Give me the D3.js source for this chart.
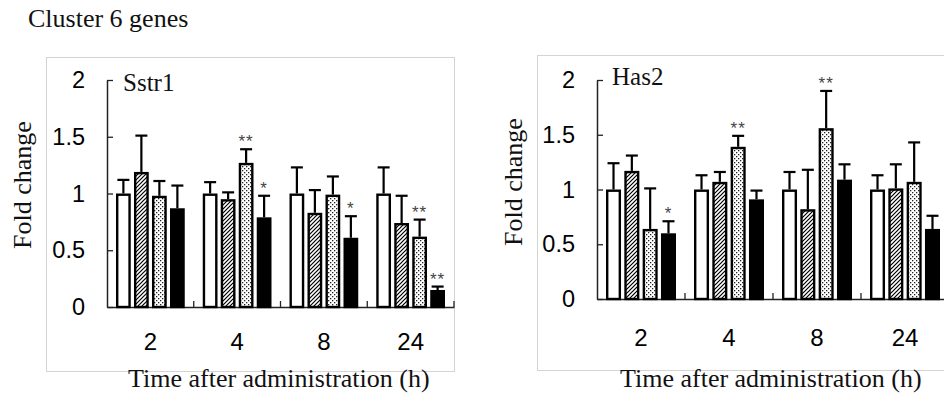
<!DOCTYPE html>
<html>
<head>
<meta charset="utf-8">
<script src="https://cdn.jsdelivr.net/npm/d3@7"></script>
<style>
  html, body { margin: 0; padding: 0; background: #fff; }
  svg { display: block; }
</style>
</head>
<body>
<svg id="chart" width="944" height="397"></svg>
<script>
// ---- data ----
const timePoints = ["2", "4", "8", "24"];
const seriesKeys = ["control", "doseLow", "doseMid", "doseHigh"];
const yTicks = [0, 0.5, 1, 1.5, 2];
const yTickLabels = ["0", "0.5", "1", "1.5", "2"];

// Sstr1
const sstr1Mean = {
  control:  [1.00, 1.00, 1.00, 1.00],
  doseLow:  [1.19, 0.95, 0.83, 0.74],
  doseMid:  [0.98, 1.27, 0.99, 0.62],
  doseHigh: [0.87, 0.79, 0.61, 0.15]
};
const sstr1Err = {
  control:  [0.12, 0.10, 0.23, 0.23],
  doseLow:  [0.32, 0.06, 0.20, 0.24],
  doseMid:  [0.13, 0.12, 0.16, 0.15],
  doseHigh: [0.20, 0.19, 0.19, 0.03]
};
const sstr1Sig = [
  {group: "4", key: "doseMid", mark: "**"},
  {group: "4", key: "doseHigh", mark: "*"},
  {group: "8", key: "doseHigh", mark: "*"},
  {group: "24", key: "doseMid", mark: "**"},
  {group: "24", key: "doseHigh", mark: "**"}
];

// Has2
const has2Mean = {
  control:  [1.00, 1.00, 1.00, 1.00],
  doseLow:  [1.17, 1.07, 0.82, 1.01],
  doseMid:  [0.64, 1.39, 1.56, 1.07],
  doseHigh: [0.60, 0.91, 1.09, 0.64]
};
const has2Err = {
  control:  [0.24, 0.13, 0.16, 0.13],
  doseLow:  [0.14, 0.09, 0.36, 0.22],
  doseMid:  [0.37, 0.10, 0.34, 0.36],
  doseHigh: [0.11, 0.08, 0.14, 0.12]
};
const has2Sig = [
  {group: "2", key: "doseHigh", mark: "*"},
  {group: "4", key: "doseMid", mark: "**"},
  {group: "8", key: "doseMid", mark: "**"}
];

// ---- drawing ----
const svg = d3.select("#chart");
const SERIF = "'Liberation Serif', 'Times New Roman', serif";
const SANS = "'Liberation Sans', Arial, sans-serif";

const defs = svg.append("defs");
const hatch = defs.append("pattern").attr("id", "hatch")
  .attr("patternUnits", "userSpaceOnUse").attr("width", 4).attr("height", 4);
hatch.append("rect").attr("width", 4).attr("height", 4).attr("fill", "#fff");
hatch.append("path").attr("d", "M-1,1 l2,-2 M0,4 l4,-4 M3,5 l2,-2")
  .attr("stroke", "#000").attr("stroke-width", 1.2);
const dots = defs.append("pattern").attr("id", "dots")
  .attr("patternUnits", "userSpaceOnUse").attr("width", 4).attr("height", 4);
dots.append("rect").attr("width", 4).attr("height", 4).attr("fill", "#fff");
dots.append("rect").attr("x", 0).attr("y", 0).attr("width", 1.3).attr("height", 1.3).attr("fill", "#222");
dots.append("rect").attr("x", 2).attr("y", 2).attr("width", 1.3).attr("height", 1.3).attr("fill", "#222");

const fills = {control: "#fff", doseLow: "url(#hatch)", doseMid: "url(#dots)", doseHigh: "#000"};

svg.append("text").attr("x", 28).attr("y", 27)
  .attr("font-family", SERIF).attr("font-size", 26).attr("fill", "#111")
  .text("Cluster 6 genes");

function drawPanel(cfg) {
  const g = svg.append("g");
  // frame
  g.append("rect").attr("x", cfg.frame[0] + 0.5).attr("y", cfg.frame[1] + 0.5)
    .attr("width", cfg.frame[2]).attr("height", cfg.frame[3])
    .attr("fill", "none").attr("stroke", "#d4d4d4").attr("stroke-width", 1);

  const x = d3.scaleBand().domain(timePoints).range([cfg.x0, cfg.x1]).paddingInner(0).paddingOuter(0);
  const xs = d3.scaleBand().domain(seriesKeys).range([9, x.bandwidth() - 9]).paddingInner(0.18).paddingOuter(0);
  const y = d3.scaleLinear().domain([0, 2]).range([cfg.yBase, cfg.yTop]);

  // y axis
  const yAxis = d3.axisLeft(y).tickValues(yTicks).tickSizeInner(-6).tickSizeOuter(0)
    .tickPadding(22).tickFormat((d, i) => yTickLabels[i]);
  const ya = g.append("g").attr("transform", `translate(${cfg.x0},0)`).call(yAxis);
  ya.select(".domain").attr("stroke", "#222").attr("stroke-width", 1.5);
  ya.selectAll(".tick line").attr("stroke", "#222").attr("stroke-width", 1.3);
  ya.selectAll(".tick text").attr("font-family", SANS).attr("font-size", 23.5).attr("fill", "#000");

  // x axis
  const xAxis = d3.axisBottom(x).tickSize(0).tickPadding(cfg.xLabelPad);
  const xa = g.append("g").attr("transform", `translate(0,${cfg.yBase})`).call(xAxis);
  xa.select(".domain").attr("stroke", "#222").attr("stroke-width", 1.5);
  xa.selectAll(".tick text").attr("font-family", SANS).attr("font-size", 24).attr("fill", "#000");
  // band boundary ticks (pointing up)
  g.selectAll(".bt").data(timePoints.slice(1).concat(["end"])).enter().append("line")
    .attr("x1", d => d === "end" ? cfg.x1 : x(d))
    .attr("x2", d => d === "end" ? cfg.x1 : x(d))
    .attr("y1", cfg.yBase).attr("y2", cfg.yBase - 6)
    .attr("stroke", "#222").attr("stroke-width", 1.3);

  const rows = [];
  timePoints.forEach((t, i) => {
    seriesKeys.forEach(k => {
      rows.push({t, k, v: cfg.mean[k][i], e: cfg.err[k][i]});
    });
  });

  // error bars
  const eg = g.append("g").attr("stroke", "#000").attr("stroke-width", 2.2);
  rows.forEach(r => {
    const cx = x(r.t) + xs(r.k) + xs.bandwidth() / 2;
    eg.append("line").attr("x1", cx).attr("x2", cx).attr("y1", y(r.v)).attr("y2", y(r.v + r.e));
    eg.append("line").attr("x1", cx - 6).attr("x2", cx + 6).attr("y1", y(r.v + r.e)).attr("y2", y(r.v + r.e));
  });

  // bars
  g.append("g").selectAll("rect").data(rows).enter().append("rect")
    .attr("x", d => x(d.t) + xs(d.k) + 1.2)
    .attr("y", d => y(d.v) + 1.2)
    .attr("width", xs.bandwidth() - 2.4)
    .attr("height", d => Math.max(0, y(0) - y(d.v) - 1.2))
    .attr("fill", d => fills[d.k])
    .attr("stroke", "#000").attr("stroke-width", 2.4);

  // significance marks
  g.append("g").selectAll("text").data(cfg.sig).enter().append("text")
    .attr("x", d => x(d.group) + xs(d.key) + xs.bandwidth() / 2)
    .attr("y", d => {
      const i = timePoints.indexOf(d.group);
      return y(cfg.mean[d.key][i] + cfg.err[d.key][i]) - 2;
    })
    .attr("text-anchor", "middle").attr("font-family", SANS).attr("font-size", 17)
    .attr("fill", "#444").attr("letter-spacing", 1).text(d => d.mark);

  // gene label
  g.append("text").attr("x", cfg.gene[0]).attr("y", cfg.gene[1])
    .attr("font-family", SERIF).attr("font-size", 25).attr("fill", "#111").text(cfg.name);

  // y title
  g.append("text").attr("transform", `translate(${cfg.yTitle[0]},${cfg.yTitle[1]}) rotate(-90)`)
    .attr("text-anchor", "middle").attr("font-family", SERIF).attr("font-size", 26).attr("fill", "#111")
    .text("Fold change");

  // x title
  g.append("text").attr("x", cfg.xTitle[0]).attr("y", cfg.xTitle[1])
    .attr("font-family", SERIF).attr("font-size", 26).attr("fill", "#111")
    .text("Time after administration (h)");
}

drawPanel({
  name: "Sstr1", mean: sstr1Mean, err: sstr1Err, sig: sstr1Sig,
  frame: [46, 57, 408, 314],
  x0: 107, x1: 454, yBase: 307, yTop: 80, xLabelPad: 26,
  gene: [123, 91], yTitle: [31, 185], xTitle: [128, 387]
});
drawPanel({
  name: "Has2", mean: has2Mean, err: has2Err, sig: has2Sig,
  frame: [537, 55, 440, 315],
  x0: 597, x1: 949, yBase: 299, yTop: 80, xLabelPad: 30,
  gene: [612, 85], yTitle: [522, 182], xTitle: [620, 387]
});
</script>
</body>
</html>
